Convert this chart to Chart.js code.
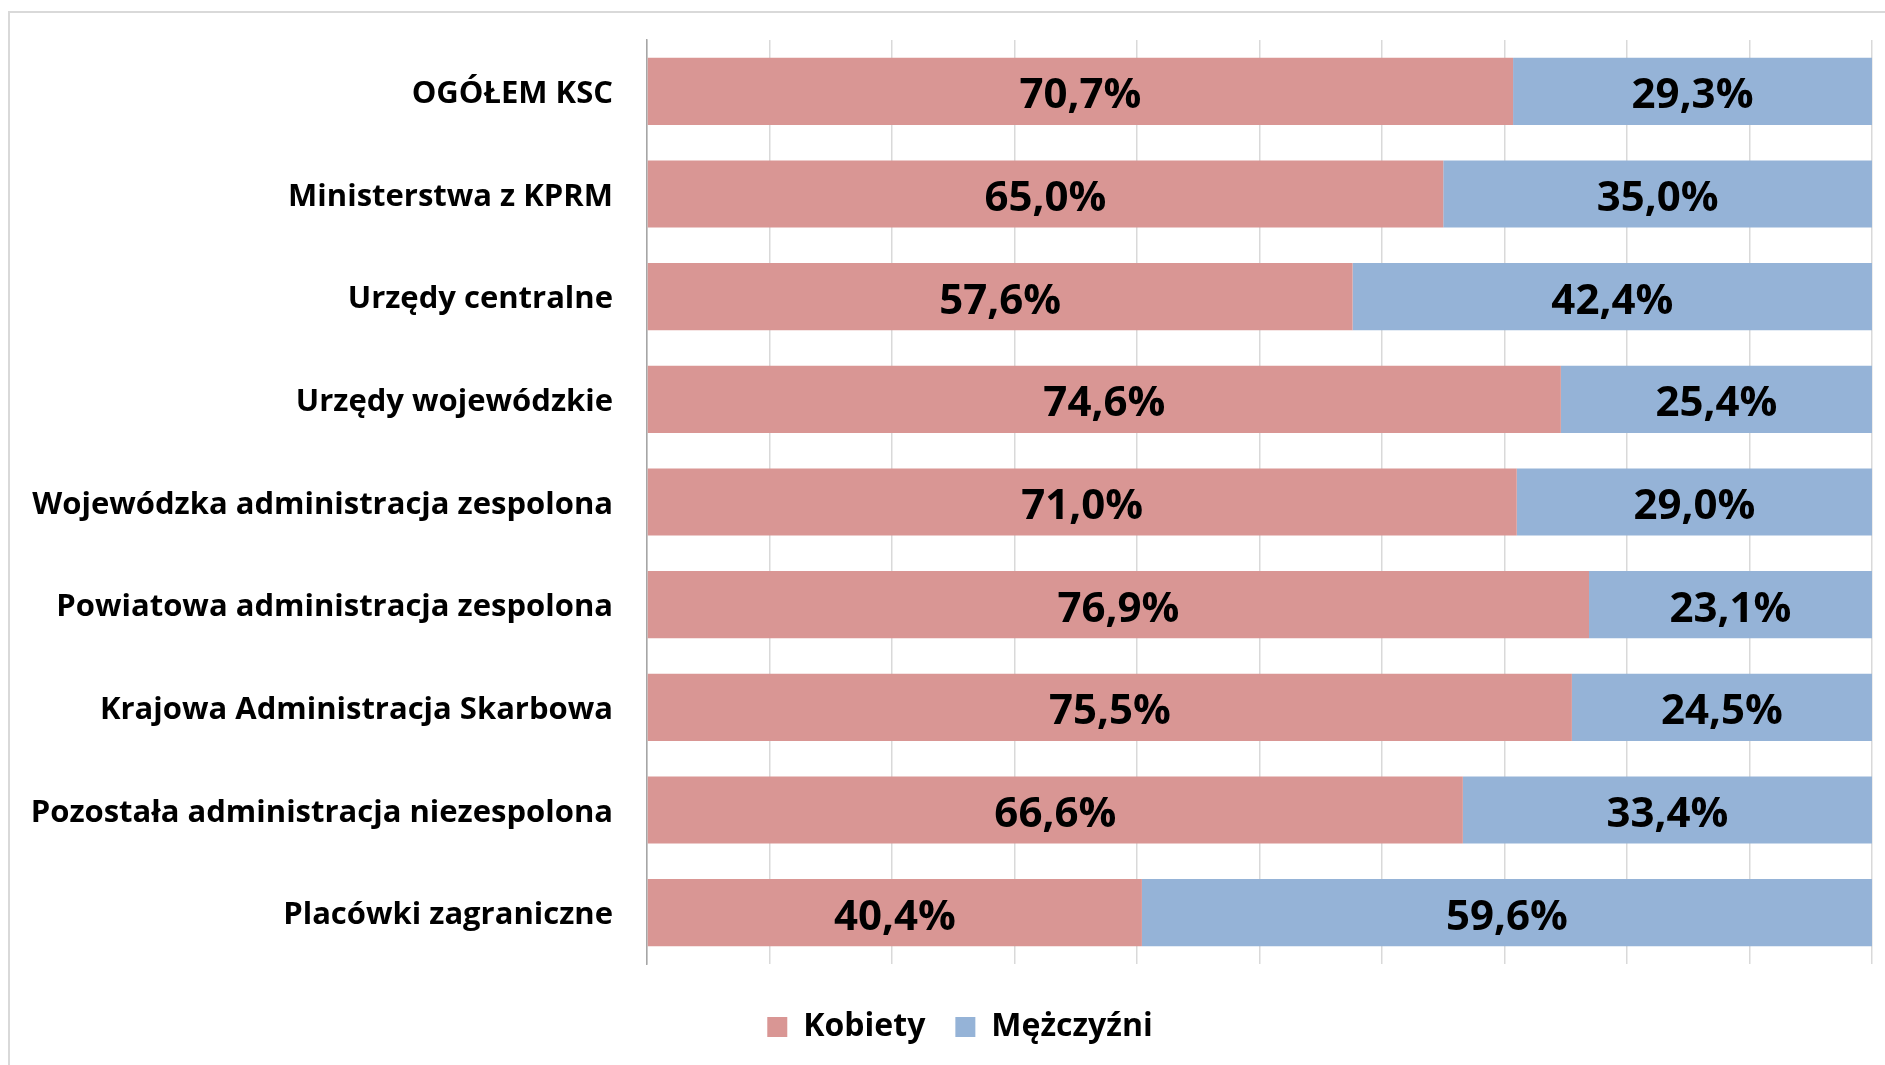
<!DOCTYPE html>
<html>
<head>
<meta charset="utf-8">
<script src="https://cdn.jsdelivr.net/npm/chart.js@4.4.1/dist/chart.umd.min.js"></script>
<style>
  html, body { margin: 0; padding: 0; background: #ffffff; }
  body { width: 1885px; height: 1065px; position: relative; overflow: hidden; }
  #frame { position: absolute; left: 8px; top: 11px; width: 1900px; height: 1100px;
           border-top: 2px solid #d9d9d9; border-left: 2px solid #d9d9d9; box-sizing: border-box; }
  #wrap { position: absolute; left: 0; top: 0; width: 1885px; height: 1065px; }
</style>
</head>
<body>
<div id="frame"></div>
<div id="wrap"><canvas id="c" width="1885" height="1065"></canvas></div>
<script>
const categories = [
  "OGÓŁEM KSC",
  "Ministerstwa z KPRM",
  "Urzędy centralne",
  "Urzędy wojewódzkie",
  "Wojewódzka administracja zespolona",
  "Powiatowa administracja zespolona",
  "Krajowa Administracja Skarbowa",
  "Pozostała administracja niezespolona",
  "Placówki zagraniczne"
];
const seriesNames = ["Kobiety", "Mężczyźni"];
const kobiety = [70.7, 65.0, 57.6, 74.6, 71.0, 76.9, 75.5, 66.6, 40.4];
const mezczyzni = [29.3, 35.0, 42.4, 25.4, 29.0, 23.1, 24.5, 33.4, 59.6];
const xTicks = [0, 10, 20, 30, 40, 50, 60, 70, 80, 90, 100];

const FONT = "'Open Sans', Lato, sans-serif";
const LEGEND_SHIFT = 24;

const barLabels = {
  id: 'barLabels',
  afterDatasetsDraw(chart) {
    const ctx = chart.ctx;
    ctx.save();
    ctx.font = "bold 42px " + FONT;
    ctx.fillStyle = "#000000";
    ctx.textAlign = "center";
    ctx.textBaseline = "middle";
    chart.data.datasets.forEach((ds, di) => {
      const meta = chart.getDatasetMeta(di);
      meta.data.forEach((el, i) => {
        const p = el.getCenterPoint();
        const txt = ds.data[i].toFixed(1).replace('.', ',') + '%';
        ctx.fillText(txt, p.x, p.y + 5);
      });
    });
    ctx.restore();
  }
};

const legendShift = {
  id: 'legendShift',
  afterLayout(chart) {
    if (chart.legend) {
      chart.legend.left += LEGEND_SHIFT;
      chart.legend.right += LEGEND_SHIFT;
    }
  }
};

new Chart(document.getElementById('c'), {
  type: 'bar',
  data: {
    labels: categories,
    datasets: [
      { label: seriesNames[0], data: kobiety, backgroundColor: '#D99694', borderWidth: 0 },
      { label: seriesNames[1], data: mezczyzni, backgroundColor: '#95B3D7', borderWidth: 0 }
    ]
  },
  options: {
    indexAxis: 'y',
    responsive: false,
    animation: false,
    devicePixelRatio: 1,
    layout: { padding: { left: 0, right: 13, top: 40, bottom: 12 } },
    datasets: { bar: { categoryPercentage: 1.0, barPercentage: 0.655 } },
    scales: {
      x: {
        stacked: true,
        min: 0, max: 100,
        afterBuildTicks(scale) { scale.ticks = xTicks.map(v => ({ value: v })); },
        ticks: { display: false },
        title: { display: true, text: ' ', color: 'rgba(0,0,0,0)', font: { size: 10 }, padding: { top: 5, bottom: 0 } },
        grid: { color: '#d9d9d9', lineWidth: 1.5, drawTicks: false },
        border: { display: false }
      },
      y: {
        stacked: true,
        afterFit(scale) {
          scale.width = 647;
          scale.paddingTop = 0;
          scale.paddingBottom = 0;
        },
        ticks: { color: '#000000', font: { family: FONT, size: 31, weight: 'bold' }, padding: 34, labelOffset: 3 },
        grid: { display: false, drawTicks: false },
        border: { display: true, color: '#a6a6a6', width: 1.5 }
      }
    },
    plugins: {
      legend: {
        position: 'bottom',
        labels: {
          color: '#000000',
          font: { family: FONT, size: 32, weight: 'bold' },
          boxWidth: 20, boxHeight: 20, padding: 30
        }
      },
      tooltip: { enabled: false }
    }
  },
  plugins: [barLabels, legendShift]
});
</script>
</body>
</html>
